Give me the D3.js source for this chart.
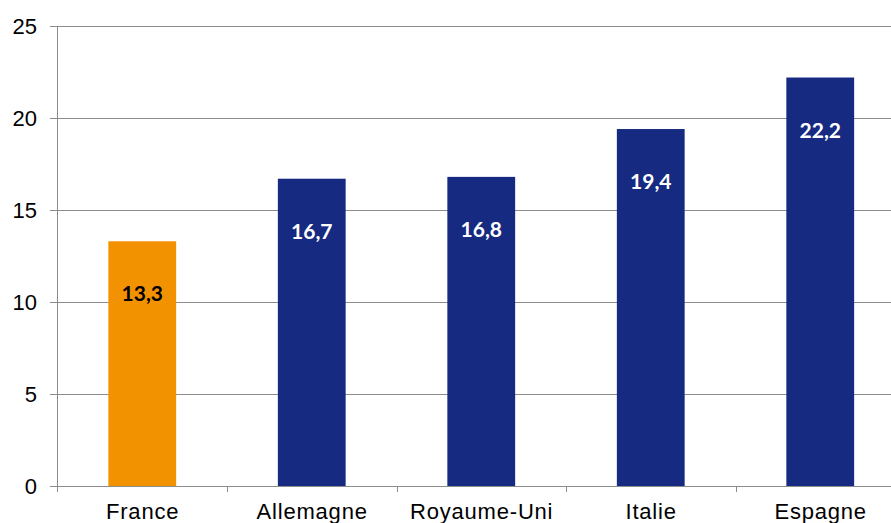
<!DOCTYPE html>
<html><head><meta charset="utf-8">
<script src="https://cdn.jsdelivr.net/npm/d3@7"></script>
<style>body{margin:0;background:#fff;}svg{display:block;}</style>
</head><body>
<svg id="c" width="891" height="523"></svg>
<script>
const categories = ["France", "Allemagne", "Royaume-Uni", "Italie", "Espagne"];
const values = [13.3, 16.7, 16.8, 19.4, 22.2];
const labels = ["13,3", "16,7", "16,8", "19,4", "22,2"];
const yTicks = [0, 5, 10, 15, 20, 25];
const colors = ["#F39200", "#152A80", "#152A80", "#152A80", "#152A80"];
const labelColors = ["#000000", "#ffffff", "#ffffff", "#ffffff", "#ffffff"];

(function () {
const svg = d3.select("#c");
const mLeft = 57.5, mRight = 905, mTop = 26, mBottom = 486;
const x = d3.scaleBand().domain(categories).range([mLeft, mRight]).paddingInner(0.6).paddingOuter(0.3);
const xb = d3.scaleBand().domain(categories).range([mLeft, mRight]);
const y = d3.scaleLinear().domain([0, 25]).range([mBottom, mTop]);

svg.append("g").selectAll("line").data(yTicks).join("line")
  .attr("x1", 50).attr("x2", 891)
  .attr("y1", d => Math.round(y(d)) + 0.5).attr("y2", d => Math.round(y(d)) + 0.5)
  .attr("stroke", "#8c8c8c").attr("stroke-width", 1);

svg.append("g").selectAll("text").data(yTicks).join("text")
  .attr("x", 37).attr("y", d => y(d)).attr("dy", "0.36em")
  .attr("text-anchor", "end")
  .attr("font-family", "Liberation Sans, Arial, sans-serif").attr("font-size", 22)
  .attr("fill", "#000").text(d => d);

svg.append("line").attr("x1", 57.5).attr("x2", 57.5).attr("y1", mTop).attr("y2", mBottom + 6)
  .attr("stroke", "#8c8c8c");

svg.append("g").selectAll("line").data(categories.slice(1)).join("line")
  .attr("x1", d => Math.round(xb(d)) + 0.5).attr("x2", d => Math.round(xb(d)) + 0.5)
  .attr("y1", mBottom).attr("y2", mBottom + 6).attr("stroke", "#8c8c8c");

svg.append("g").selectAll("rect").data(values).join("rect")
  .attr("x", (d, i) => x(categories[i]))
  .attr("width", x.bandwidth())
  .attr("y", d => y(d))
  .attr("height", d => y(0) - y(d))
  .attr("fill", (d, i) => colors[i]);

svg.append("line").attr("x1", 50).attr("x2", 891).attr("y1", Math.round(y(0)) + 0.5).attr("y2", Math.round(y(0)) + 0.5)
  .attr("stroke", "#8c8c8c");

svg.append("g").selectAll("text").data(values).join("text")
  .attr("x", (d, i) => x(categories[i]) + x.bandwidth() / 2)
  .attr("y", d => y(d) + 60)
  .attr("text-anchor", "middle")
  .attr("font-family", "Lato, Carlito, sans-serif").attr("font-weight", "bold").attr("font-size", 21)
  .attr("fill", (d, i) => labelColors[i]).text((d, i) => labels[i]);

svg.append("g").selectAll("text").data(categories).join("text")
  .attr("x", d => xb(d) + xb.bandwidth() / 2 + 0.4)
  .attr("y", 519)
  .attr("text-anchor", "middle")
  .attr("letter-spacing", 0.8)
  .attr("font-family", "Liberation Sans, Arial, sans-serif").attr("font-size", 22)
  .attr("fill", "#000").text(d => d);
})();
</script>
</body></html>
